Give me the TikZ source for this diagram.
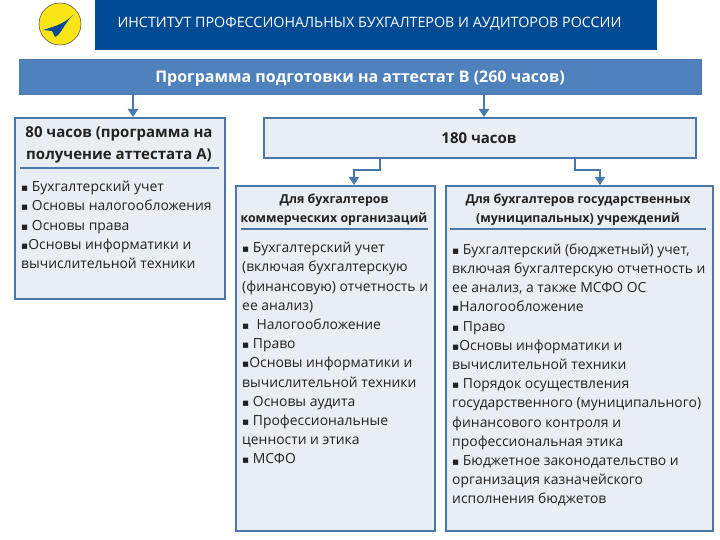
\documentclass[tikz,border=0pt]{standalone}
\usepackage{fontspec}
\setmainfont{Open Sans}
\newfontfamily\bulfont{DejaVu Sans}
\newcommand{\bp}{{\bulfont\fontsize{10.5}{10.5}\selectfont ▪}}
\usetikzlibrary{arrows.meta,shapes.geometric}
\definecolor{bluebar}{HTML}{4F81BD}
\definecolor{edgeblue}{HTML}{4A78AC}
\definecolor{panel}{HTML}{E9EDF4}
\definecolor{banner}{HTML}{004B93}
\definecolor{logoY}{HTML}{FCE517}
\definecolor{inktext}{HTML}{222222}
\tikzset{
 panelbox/.style={draw=edgeblue,line width=1.6pt,fill=panel,inner sep=0pt},
 link/.style={draw=edgeblue,line width=2pt,-{Triangle[length=8pt,width=10pt]}},
 rulex/.style={draw=edgeblue,line width=1.2pt},
 headtext/.style={align=center,font=\fontsize{15}{22}\selectfont\bfseries,text=inktext,inner sep=0pt},
 subtext/.style={align=center,font=\fontsize{12.4}{18.5}\selectfont\bfseries,text=inktext,inner sep=0pt},
 bodytext/.style={align=left,anchor=north west,font=\fontsize{13.9}{19.2}\selectfont,text=inktext,inner sep=0pt},
}
\begin{document}
\begin{tikzpicture}[x=1pt,y=-1pt]
\useasboundingbox (0,0) rectangle (720,540);
\fill[white] (0,0) rectangle (720,540);
\node[fill=banner,minimum width=562pt,minimum height=50pt,inner sep=0pt,anchor=north west] (ban) at (95,0) {};
\node[text=white,font=\fontsize{14.3}{17}\selectfont,inner sep=0pt] (bant) at (369.5,24) {ИНСТИТУТ ПРОФЕССИОНАЛЬНЫХ БУХГАЛТЕРОВ И АУДИТОРОВ РОССИИ};
\node[draw=black!70,line width=.5pt,fill=logoY,ellipse,minimum width=42pt,minimum height=42pt,inner sep=0pt] (logo) at (60,24) {};
\fill[banner] (73,15) .. controls (66,21) and (60,36) .. (55,37) -- (52,31) -- (43,30) .. controls (52,27) and (63,25) .. (73,15) -- cycle;
\node[draw=edgeblue,line width=1pt,fill=bluebar,minimum width=682pt,minimum height=35pt,inner sep=0pt,anchor=north west] (bar) at (19,59) {};
\node[text=white,font=\fontsize{16}{19}\selectfont\bfseries,inner sep=0pt] (bart) at (360,78.5) {Программа подготовки на аттестат В (260 часов)};
\node[panelbox,minimum width=210pt,minimum height=181pt,anchor=north west] (a) at (14,117) {};
\node[panelbox,minimum width=432pt,minimum height=40pt,anchor=north west] (b) at (263,117) {};
\node[panelbox,minimum width=199pt,minimum height=345pt,anchor=north west] (c) at (235,185) {};
\node[panelbox,minimum width=267pt,minimum height=345pt,anchor=north west] (d) at (445,185) {};
\coordinate (a1) at (133,94); \coordinate (a2) at (133,117);
\coordinate (b1) at (484,94); \coordinate (b2) at (484,117);
\draw[link] (a1) -- (a2);
\draw[link] (b1) -- (b2);
\coordinate (c1) at (380,157); \coordinate (c2) at (354,185);
\coordinate (d1) at (575,157); \coordinate (d2) at (600,185);
\draw[link] (c1) -- (380,170) -- (354,170) -- (c2);
\draw[link] (d1) -- (575,170) -- (600,170) -- (d2);
\coordinate (r1) at (20,168); \coordinate (r2) at (219,168);
\draw[rulex] (r1) -- (r2);
\coordinate (r3) at (241,229); \coordinate (r4) at (428,229);
\draw[rulex] (r3) -- (r4);
\coordinate (r5) at (450,229); \coordinate (r6) at (706,229);
\draw[rulex] (r5) -- (r6);
\node[headtext] (at) at (119,144.5) {80 часов (программа на\\получение аттестата А)};
\node[headtext] (bt) at (479,138) {180 часов};
\node[subtext] (ct) at (334,209.5) {Для бухгалтеров\\коммерческих организаций};
\node[subtext] (dt) at (578,209.5) {Для бухгалтеров государственных\\(муниципальных) учреждений};
\node[bodytext] (ab) at (21,181) {\bp{} Бухгалтерский учет\\\bp{} Основы налогообложения\\\bp{} Основы права\\\bp{}Основы информатики и\\вычислительной техники};
\node[bodytext] (cb) at (242,242) {\bp{} Бухгалтерский учет\\(включая бухгалтерскую\\(финансовую) отчетность и\\ее анализ)\\\bp{}~ Налогообложение\\\bp{} Право\\\bp{}Основы информатики и\\вычислительной техники\\\bp{} Основы аудита\\\bp{} Профессиональные\\ценности и этика\\\bp{} МСФО};
\node[bodytext] (db) at (452,243.5) {\bp{} Бухгалтерский (бюджетный) учет,\\включая бухгалтерскую отчетность и\\ее анализ, а также МСФО ОС\\\bp{}Налогообложение\\\bp{} Право\\\bp{}Основы информатики и\\вычислительной техники\\\bp{} Порядок осуществления\\государственного (муниципального)\\финансового контроля и\\профессиональная этика\\\bp{} Бюджетное законодательство и\\организация казначейского\\исполнения бюджетов};
\end{tikzpicture}
\end{document}
